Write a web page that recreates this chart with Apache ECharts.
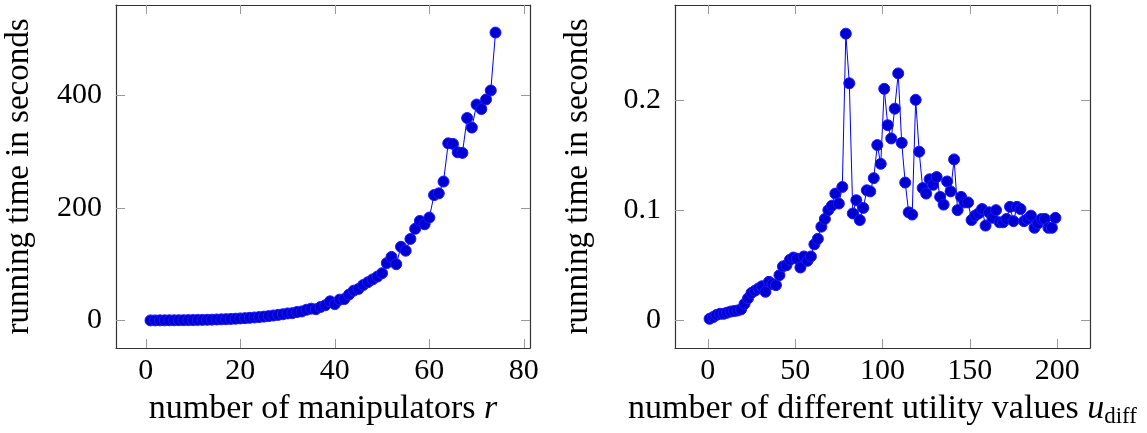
<!DOCTYPE html>
<html>
<head>
<meta charset="utf-8">
<script src="https://cdn.jsdelivr.net/npm/echarts@6/dist/echarts.min.js"></script>
<style>
html,body{margin:0;padding:0;background:#fff;}
#c{width:1147px;height:433px;}
</style>
</head>
<body>
<div id="c"></div>
<script>
// ---- data: left plot (running time vs number of manipulators r) ----
const manipulators = [];
for (let r = 1; r <= 74; r++) manipulators.push(r);
const timeByManipulators = [
  0.1, 0.1, 0.2, 0.2, 0.3, 0.3, 0.4, 0.5, 0.6, 0.7,
  0.9, 1.0, 1.2, 1.4, 1.7, 2.0, 2.3, 2.7, 3.1, 3.6,
  4.1, 4.7, 5.3, 6.0, 6.8, 7.7, 8.8, 9.9, 11, 12.5,
  13, 15, 16, 19, 21, 20, 24, 27, 34, 29,
  37, 38, 46, 53, 56, 63, 68, 73, 78, 84,
  102, 113, 100, 131, 124, 145, 163, 177, 171, 183,
  223, 226, 247, 315, 314, 299, 298, 360, 343, 384,
  376, 393, 409, 512
];

// ---- data: right plot (running time vs number of different utility values) ----
const utilityValues = [];
for (let u = 1; u <= 199; u += 2) utilityValues.push(u);
const timeByUtility = [
  0.0015, 0.003, 0.005, 0.006, 0.006, 0.007, 0.008, 0.0085, 0.009, 0.010,
  0.015, 0.020, 0.025, 0.027, 0.029, 0.031, 0.026, 0.035, 0.033, 0.032,
  0.041, 0.049, 0.050, 0.055, 0.057, 0.056, 0.048, 0.058, 0.054, 0.058,
  0.069, 0.074, 0.085, 0.092, 0.100, 0.104, 0.115, 0.106, 0.121, 0.260,
  0.215, 0.097, 0.109, 0.091, 0.102, 0.118, 0.117, 0.129, 0.159, 0.142,
  0.210, 0.177, 0.165, 0.192, 0.224, 0.161, 0.125, 0.098, 0.096, 0.200,
  0.153, 0.120, 0.115, 0.128, 0.123, 0.130, 0.112, 0.105, 0.126, 0.117,
  0.146, 0.100, 0.112, 0.107, 0.107, 0.091, 0.095, 0.097, 0.101, 0.086,
  0.098, 0.093, 0.100, 0.089, 0.089, 0.092, 0.103, 0.090, 0.103, 0.101,
  0.090, 0.092, 0.095, 0.084, 0.088, 0.092, 0.092, 0.084, 0.084, 0.093
];

// ---- tick labels ----
const xTicksLeft = [0, 20, 40, 60, 80];
const yTicksLeft = [0, 200, 400];
const xTicksRight = [0, 50, 100, 150, 200];
const yTicksRight = [0, 0.1, 0.2];

const FONT = '"Liberation Serif", "DejaVu Serif", serif';
const frameColor = '#333';
const tickColor = '#999';

function pairs(xs, ys) { return xs.map((x, i) => [x, ys[i]]); }

function xAxis(grid, min, max, ticks, pos, name) {
  const main = pos === 'bottom';
  return {
    type: 'value', gridIndex: grid, position: pos, min: min, max: max,
    axisLine: { show: true, onZero: false, lineStyle: { color: frameColor, width: 1.2 } },
    axisTick: { show: true, inside: true, length: 9, customValues: ticks, lineStyle: { color: tickColor, width: 1 } },
    axisLabel: main ? { show: true, customValues: ticks, margin: 8, fontFamily: FONT, fontSize: 30, color: '#000' } : { show: false },
    splitLine: { show: false },
    name: main ? name : '',
    nameLocation: 'middle',
    nameGap: 43,
    nameTextStyle: {
      fontFamily: FONT, fontSize: 34, color: '#000',
      rich: {
        n: { fontFamily: FONT, fontSize: 34, color: '#000', lineHeight: 37 },
        i: { fontFamily: FONT, fontSize: 34, fontStyle: 'italic', color: '#000', lineHeight: 37 },
        s: { fontFamily: FONT, fontSize: 23, color: '#000', lineHeight: 23, verticalAlign: 'bottom' }
      }
    }
  };
}

function yAxis(grid, min, max, ticks, pos, name, gap, fmt) {
  const main = pos === 'left';
  return {
    type: 'value', gridIndex: grid, position: pos, min: min, max: max,
    axisLine: { show: true, onZero: false, lineStyle: { color: frameColor, width: 1.2 } },
    axisTick: { show: true, inside: true, length: 9, customValues: ticks, lineStyle: { color: tickColor, width: 1 } },
    axisLabel: main ? { show: true, customValues: ticks, margin: 14, fontFamily: FONT, fontSize: 30, color: '#000', formatter: fmt } : { show: false },
    splitLine: { show: false },
    name: main ? name : '',
    nameLocation: 'middle',
    nameGap: gap,
    nameTextStyle: { fontFamily: FONT, fontSize: 33, color: '#000' }
  };
}

const seriesStyle = {
  type: 'line',
  symbol: 'circle',
  symbolSize: 11,
  showSymbol: true,
  lineStyle: { color: '#0000ff', width: 1 },
  itemStyle: { color: '#0000d0', borderColor: '#1a1aff', borderWidth: 1 },
  animation: false,
  z: 3
};

const chart = echarts.init(document.getElementById('c'), null, { renderer: 'canvas' });
chart.setOption({
  backgroundColor: '#fff',
  animation: false,
  grid: [
    { left: 116, right: 617, top: 5, bottom: 85 },
    { left: 675, right: 57, top: 5, bottom: 84 }
  ],
  xAxis: [
    xAxis(0, -6.3, 81.3, xTicksLeft, 'bottom', '{n|number of manipulators }{i|r}'),
    xAxis(0, -6.3, 81.3, xTicksLeft, 'top', ''),
    xAxis(1, -18.8, 218.8, xTicksRight, 'bottom', '{n|number of different utility values }{i|u}{s|diff}'),
    xAxis(1, -18.8, 218.8, xTicksRight, 'top', '')
  ],
  yAxis: [
    yAxis(0, -49, 561, yTicksLeft, 'left', 'running time in seconds', 80, v => String(v)),
    yAxis(0, -49, 561, yTicksLeft, 'right', '', 0),
    yAxis(1, -0.025, 0.286, yTicksRight, 'left', 'running time in seconds', 80, v => String(v)),
    yAxis(1, -0.025, 0.286, yTicksRight, 'right', '', 0)
  ],
  series: [
    Object.assign({}, seriesStyle, { xAxisIndex: 0, yAxisIndex: 0, data: pairs(manipulators, timeByManipulators) }),
    Object.assign({}, seriesStyle, { xAxisIndex: 2, yAxisIndex: 2, data: pairs(utilityValues, timeByUtility) })
  ]
});
</script>
</body>
</html>
